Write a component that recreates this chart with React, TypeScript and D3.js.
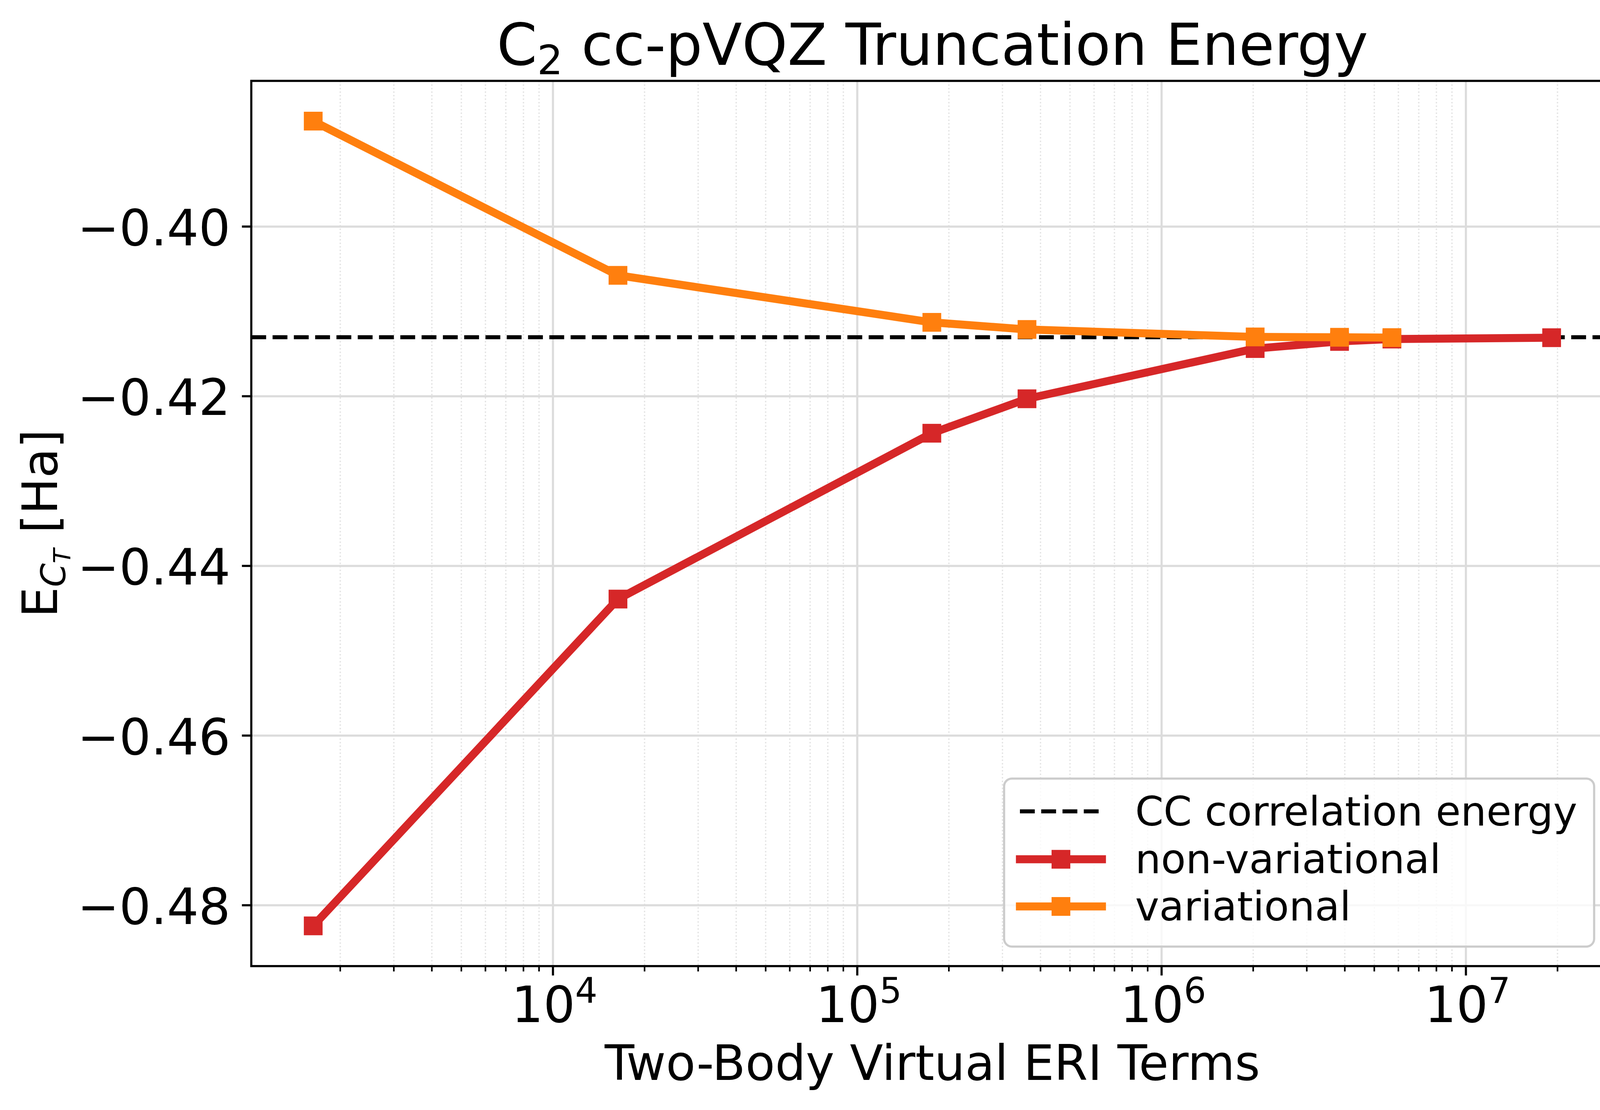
import { useEffect, useRef } from "react"
import * as d3 from "d3"

// Number of two-body virtual ERI terms kept at each truncation level
const eriTerms = [1630, 16355, 175800, 361200, 2030000, 3844000, 5713000, 19130000]

// Truncation energy E_CT [Ha]
const nonVariational = [-0.48243, -0.44391, -0.42436, -0.4203, -0.41438, -0.41354, -0.41326, -0.4131]
const variational = [-0.38757, -0.40575, -0.41129, -0.41213, -0.41301, -0.41305, -0.41309]

// Reference CC correlation energy
const ccEnergy = -0.41304

const yTicks = [-0.48, -0.46, -0.44, -0.42, -0.4]
const xTickExponents = [4, 5, 6, 7]
const legendLabels = ["CC correlation energy", "non-variational", "variational"]

const RED = "#d62728"
const ORANGE = "#ff7f0e"
const FONT = "DejaVu Sans"

export default function App() {
  const svgRef = useRef<SVGSVGElement>(null)

  useEffect(() => {
    const svg = d3.select(svgRef.current)
    svg.selectAll("*").remove()

    const W = 4180
    const H = 2841
    const left = 643.3
    const right = 4130.7
    const top = 207
    const bottom = 2472.7

    svg.attr("width", W).attr("height", H).style("background", "#fff")

    // log-space 5% padding like matplotlib autoscale
    const lx0 = Math.log10(d3.min(eriTerms)!)
    const lx1 = Math.log10(d3.max(eriTerms)!)
    const xpad = (lx1 - lx0) * 0.05
    const xScale = d3
      .scaleLog()
      .domain([Math.pow(10, lx0 - xpad), Math.pow(10, lx1 + xpad)])
      .range([left, right])

    const allY = [...nonVariational, ...variational]
    const y0 = d3.min(allY)!
    const y1 = d3.max(allY)!
    const ypad = (y1 - y0) * 0.05
    const yScale = d3.scaleLinear().domain([y0 - ypad, y1 + ypad]).range([bottom, top])

    const [dMin, dMax] = xScale.domain()
    const minorTicks: number[] = []
    for (let e = 3; e <= 7; e++) {
      for (let m = 2; m <= 9; m++) {
        const v = m * Math.pow(10, e)
        if (v >= dMin && v <= dMax) minorTicks.push(v)
      }
    }
    const majorTicks = xTickExponents.map(e => Math.pow(10, e))

    const g = svg.append("g")

    // Minor grid (x only)
    g.append("g")
      .selectAll("line")
      .data(minorTicks)
      .enter()
      .append("line")
      .attr("x1", d => xScale(d))
      .attr("x2", d => xScale(d))
      .attr("y1", top)
      .attr("y2", bottom)
      .attr("stroke", "#e2e2e2")
      .attr("stroke-width", 3.4)
      .attr("stroke-dasharray", "3.4,5.6")

    // Major grid
    g.append("g")
      .selectAll("line")
      .data(majorTicks)
      .enter()
      .append("line")
      .attr("x1", d => xScale(d))
      .attr("x2", d => xScale(d))
      .attr("y1", top)
      .attr("y2", bottom)
      .attr("stroke", "#dcdcdc")
      .attr("stroke-width", 5.5)

    g.append("g")
      .selectAll("line")
      .data(yTicks)
      .enter()
      .append("line")
      .attr("x1", left)
      .attr("x2", right)
      .attr("y1", d => yScale(d))
      .attr("y2", d => yScale(d))
      .attr("stroke", "#dcdcdc")
      .attr("stroke-width", 5.5)

    // CC reference line
    g.append("line")
      .attr("x1", left)
      .attr("x2", right)
      .attr("y1", yScale(ccEnergy))
      .attr("y2", yScale(ccEnergy))
      .attr("stroke", "#000")
      .attr("stroke-width", 10.3)
      .attr("stroke-dasharray", "38,16.5")

    const line = d3
      .line<[number, number]>()
      .x(d => xScale(d[0]))
      .y(d => yScale(d[1]))

    const series = [
      { values: nonVariational, color: RED },
      { values: variational, color: ORANGE },
    ]
    const MS = 48

    series.forEach(s => {
      const pts = s.values.map((v, i) => [eriTerms[i], v] as [number, number])
      g.append("path")
        .attr("d", line(pts)!)
        .attr("fill", "none")
        .attr("stroke", s.color)
        .attr("stroke-width", 20.5)
        .attr("stroke-linejoin", "round")
        .attr("stroke-linecap", "square")
      g.append("g")
        .selectAll("rect")
        .data(pts)
        .enter()
        .append("rect")
        .attr("x", d => xScale(d[0]) - MS / 2)
        .attr("y", d => yScale(d[1]) - MS / 2)
        .attr("width", MS)
        .attr("height", MS)
        .attr("fill", s.color)
    })

    // Axes frame
    g.append("rect")
      .attr("x", left)
      .attr("y", top)
      .attr("width", right - left)
      .attr("height", bottom - top)
      .attr("fill", "none")
      .attr("stroke", "#000")
      .attr("stroke-width", 5.5)
      .attr("stroke-linecap", "square")

    // X ticks
    g.append("g")
      .selectAll("line")
      .data(majorTicks)
      .enter()
      .append("line")
      .attr("x1", d => xScale(d))
      .attr("x2", d => xScale(d))
      .attr("y1", bottom)
      .attr("y2", bottom + 24)
      .attr("stroke", "#000")
      .attr("stroke-width", 5.5)

    g.append("g")
      .selectAll("line")
      .data(minorTicks)
      .enter()
      .append("line")
      .attr("x1", d => xScale(d))
      .attr("x2", d => xScale(d))
      .attr("y1", bottom)
      .attr("y2", bottom + 13.7)
      .attr("stroke", "#000")
      .attr("stroke-width", 4.1)

    const xLabels = g
      .append("g")
      .selectAll("text")
      .data(xTickExponents)
      .enter()
      .append("text")
      .attr("x", d => xScale(Math.pow(10, d)) + 4)
      .attr("y", 2615.7)
      .attr("text-anchor", "middle")
      .attr("font-family", FONT)
      .attr("font-size", 128)
      .attr("fill", "#000")
    xLabels.append("tspan").text("10")
    xLabels
      .append("tspan")
      .attr("dy", -49)
      .attr("font-size", 90)
      .text(d => String(d))

    // Y ticks
    g.append("g")
      .selectAll("line")
      .data(yTicks)
      .enter()
      .append("line")
      .attr("x1", left - 24)
      .attr("x2", left)
      .attr("y1", d => yScale(d))
      .attr("y2", d => yScale(d))
      .attr("stroke", "#000")
      .attr("stroke-width", 5.5)

    g.append("g")
      .selectAll("text")
      .data(yTicks)
      .enter()
      .append("text")
      .attr("x", 590)
      .attr("y", d => yScale(d) + 48)
      .attr("text-anchor", "end")
      .attr("font-family", FONT)
      .attr("font-size", 128)
      .attr("fill", "#000")
      .text(d => d3.format(".2f")(d).replace("-", "\u2212"))

    // Title
    const cx = (left + right) / 2
    const title = g
      .append("text")
      .attr("x", cx)
      .attr("y", 166)
      .attr("text-anchor", "middle")
      .attr("font-family", FONT)
      .attr("font-size", 148)
      .attr("fill", "#000")
    title.append("tspan").text("C")
    title.append("tspan").attr("dy", 24).attr("font-size", 104).text("2")
    title.append("tspan").attr("dy", -24).text(" cc-pVQZ Truncation Energy")

    // X label
    g.append("text")
      .attr("x", cx)
      .attr("y", 2764)
      .attr("text-anchor", "middle")
      .attr("font-family", FONT)
      .attr("font-size", 124)
      .attr("fill", "#000")
      .text("Two-Body Virtual ERI Terms")

    // Y label
    const ylab = g
      .append("text")
      .attr("transform", `translate(145.7,${(top + bottom) / 2}) rotate(-90)`)
      .attr("text-anchor", "middle")
      .attr("font-family", FONT)
      .attr("font-size", 124)
      .attr("fill", "#000")
    ylab.append("tspan").text("E")
    ylab.append("tspan").attr("dy", 21).attr("font-size", 87).attr("font-style", "italic").text("C")
    ylab.append("tspan").attr("dy", 13).attr("font-size", 61).attr("font-style", "italic").text("T")
    ylab.append("tspan").attr("dy", -34).text(" [Ha]")

    // Legend
    const lg = g.append("g")
    lg.append("rect")
      .attr("x", 2570.5)
      .attr("y", 1992.7)
      .attr("width", 4081 - 2570.5)
      .attr("height", 2422.7 - 1992.7)
      .attr("rx", 20)
      .attr("fill", "#fff")
      .attr("fill-opacity", 0.8)
      .attr("stroke", "#cccccc")
      .attr("stroke-width", 5.5)

    const rowY = [2076.7, 2199.3, 2320]
    const textY = [2113.3, 2235, 2356]
    const hx0 = 2611
    const hx1 = 2821
    const hmid = (hx0 + hx1) / 2

    lg.append("line")
      .attr("x1", hx0)
      .attr("x2", hx1)
      .attr("y1", rowY[0])
      .attr("y2", rowY[0])
      .attr("stroke", "#000")
      .attr("stroke-width", 10.3)
      .attr("stroke-dasharray", "38,16.5")

    series.forEach((s, i) => {
      const yy = rowY[i + 1]
      lg.append("line")
        .attr("x1", hx0)
        .attr("x2", hx1)
        .attr("y1", yy)
        .attr("y2", yy)
        .attr("stroke", s.color)
        .attr("stroke-width", 20.5)
        .attr("stroke-linecap", "square")
      lg.append("rect")
        .attr("x", hmid - MS / 2)
        .attr("y", yy - MS / 2)
        .attr("width", MS)
        .attr("height", MS)
        .attr("fill", s.color)
    })

    lg.selectAll("text.lab")
      .data(legendLabels)
      .enter()
      .append("text")
      .attr("class", "lab")
      .attr("x", 2906)
      .attr("y", (d, i) => textY[i])
      .attr("font-family", FONT)
      .attr("font-size", 104)
      .attr("fill", "#000")
      .text(d => d)
  }, [])

  return (
    <div style={{ position: "absolute", left: 0, top: 0 }}>
      <svg ref={svgRef} style={{ display: "block" }}></svg>
    </div>
  )
}
